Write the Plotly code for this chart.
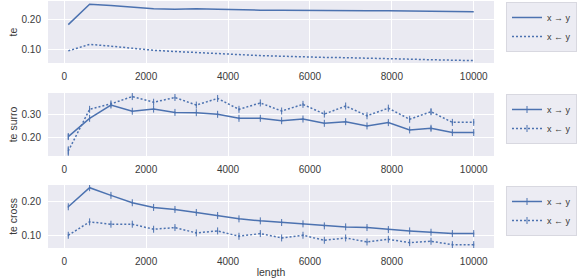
import numpy as np
import plotly.graph_objects as go

length = [100, 621, 1142, 1663, 2184, 2705, 3226, 3747, 4268, 4789,
          5310, 5831, 6352, 6873, 7394, 7915, 8436, 8957, 9478, 10000]

te_xy = [0.183, 0.252, 0.248, 0.242, 0.237, 0.235, 0.237, 0.235, 0.233, 0.232,
         0.232, 0.231, 0.231, 0.230, 0.230, 0.230, 0.229, 0.229, 0.228, 0.227]
te_yx = [0.094, 0.116, 0.110, 0.102, 0.096, 0.092, 0.088, 0.084, 0.081, 0.078,
         0.076, 0.073, 0.072, 0.071, 0.070, 0.068, 0.066, 0.064, 0.063, 0.061]

surro_xy = [0.205, 0.282, 0.338, 0.312, 0.321, 0.307, 0.306, 0.299, 0.282, 0.282,
            0.272, 0.279, 0.261, 0.268, 0.250, 0.264, 0.233, 0.240, 0.222, 0.222]
surro_yx = [0.144, 0.320, 0.343, 0.374, 0.350, 0.370, 0.338, 0.366, 0.320, 0.347,
            0.313, 0.341, 0.300, 0.334, 0.293, 0.325, 0.278, 0.310, 0.265, 0.265]
surro_xy_err = [0.012, 0.005, 0.004, 0.004, 0.004, 0.004, 0.004, 0.004, 0.005, 0.005,
                0.004, 0.005, 0.004, 0.004, 0.004, 0.004, 0.004, 0.010, 0.004, 0.004]
surro_yx_err = [0.020, 0.005, 0.004, 0.004, 0.004, 0.004, 0.004, 0.004, 0.005, 0.004,
                0.004, 0.005, 0.004, 0.004, 0.004, 0.004, 0.004, 0.012, 0.006, 0.005]

cross_xy = [0.185, 0.242, 0.219, 0.197, 0.183, 0.177, 0.168, 0.159, 0.149, 0.143,
            0.138, 0.134, 0.128, 0.125, 0.123, 0.117, 0.113, 0.109, 0.105, 0.105]
cross_yx = [0.100, 0.140, 0.133, 0.133, 0.118, 0.123, 0.107, 0.113, 0.097, 0.105,
            0.092, 0.100, 0.085, 0.092, 0.080, 0.088, 0.078, 0.082, 0.072, 0.072]
cross_xy_err = [0.003] * 20
cross_yx_err = [0.003] * 20

labels = ["x \u2192 y", "x \u2190 y"]
ylabels = ["te", "te surro", "te cross"]
xticks = [0, 2000, 4000, 6000, 8000, 10000]

BLUE = "#4C72B0"
BG = "#EAEAF2"
TXT = "#3a3a3a"
FONT = "Liberation Sans, Arial, sans-serif"

fig = go.Figure()

panels = [
    (te_xy, te_yx, None, None, "y", "legend"),
    (surro_xy, surro_yx, surro_xy_err, surro_yx_err, "y2", "legend2"),
    (cross_xy, cross_yx, cross_xy_err, cross_yx_err, "y3", "legend3"),
]
xaxes = ["x", "x2", "x3"]

for i, (a, b, ea, eb, yax, leg) in enumerate(panels):
    for vals, err, lab, dash in [(a, ea, labels[0], "solid"), (b, eb, labels[1], "2px,2px")]:
        kw = {}
        if err is not None:
            kw["error_y"] = dict(type="data", array=err, visible=True, width=0,
                                 thickness=1, color=BLUE)
            kw["mode"] = "lines+markers"
            kw["marker"] = dict(symbol="line-ns-open", size=5,
                                line=dict(color=BLUE, width=1), color=BLUE)
        else:
            kw["mode"] = "lines"
        fig.add_trace(go.Scatter(x=length, y=vals, name=lab, xaxis=xaxes[i], yaxis=yax,
                                 line=dict(color=BLUE, width=1.5, dash=dash),
                                 legend=leg, **kw))

H = 247.0
def dom(top, bot):
    return [(248 - bot) / H, (248 - top) / H]

domains = [dom(1, 63), dom(93, 156), dom(185, 248)]
yranges = [[0.053, 0.263], [0.123, 0.389], [0.062, 0.25]]

axis_common = dict(showgrid=True, gridcolor="white", gridwidth=1, zeroline=False,
                   showline=False, tickfont=dict(size=10, color=TXT, family=FONT),
                   ticks="outside", ticklen=4, tickcolor="rgba(0,0,0,0)")

layout = dict(
    width=578, height=278,
    margin=dict(l=48, r=84, t=1, b=30, autoexpand=False),
    paper_bgcolor="white", plot_bgcolor=BG,
    font=dict(family=FONT, size=10, color=TXT),
    showlegend=True,
)

for i in range(3):
    xk = "xaxis" if i == 0 else f"xaxis{i+1}"
    yk = "yaxis" if i == 0 else f"yaxis{i+1}"
    layout[xk] = dict(axis_common, domain=[0, 1], range=[-395, 10495],
                      tickvals=xticks, ticktext=[str(t) for t in xticks],
                      anchor="y" if i == 0 else f"y{i+1}")
    layout[yk] = dict(axis_common, domain=domains[i], range=yranges[i],
                      dtick=0.1, tickformat=".2f",
                      anchor="x" if i == 0 else f"x{i+1}",
                      title=dict(text=ylabels[i], font=dict(size=10.5, color=TXT), standoff=1))
    lk = "legend" if i == 0 else f"legend{i+1}"
    layout[lk] = dict(x=(577 - 48) / 446.0, xanchor="right", y=domains[i][1] - 0.004, yanchor="top",
                      bgcolor="rgba(234,234,242,0.9)", bordercolor="#d8d8e0", borderwidth=1,
                      font=dict(size=9, color=TXT, family=FONT),
                      itemwidth=30, tracegroupgap=0)

layout["xaxis3"]["title"] = dict(text="length", font=dict(size=10.5, color=TXT), standoff=2)

fig.update_layout(**layout)
fig.write_html("out.html")
